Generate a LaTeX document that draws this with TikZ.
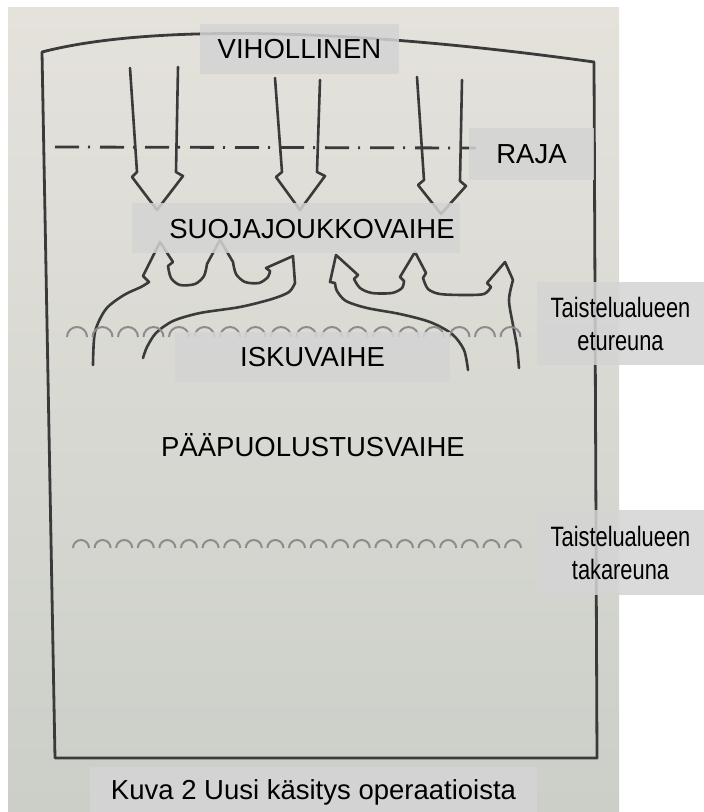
\documentclass[tikz,border=0pt]{standalone}
\usepackage{fontspec}
\setmainfont{Liberation Sans}
\newfontfamily\narrowsans[FakeStretch=0.78]{Liberation Sans}
\usetikzlibrary{positioning}

\definecolor{ink}{RGB}{58,58,58}
\definecolor{pagetop}{RGB}{229,226,220}
\definecolor{pagebottom}{RGB}{203,207,200}
\definecolor{tagfill}{RGB}{212,212,212}
\definecolor{scallopgray}{RGB}{140,140,140}

\begin{document}
\begin{tikzpicture}[x=1pt, y=-1pt,
    stroke/.style={draw=ink, line width=2.6pt, line join=round, line cap=round},
    border/.style={draw=ink, line width=2.8pt, dash pattern=on 24pt off 9pt on 2pt off 10pt},
    scallop/.style={draw=scallopgray, line width=2pt},
    tag/.style={fill=tagfill, fill opacity=0.85, text opacity=1, inner sep=0pt},
    lbl/.style={font=\fontsize{27.5}{33}\selectfont},
    side/.style={font=\narrowsans\fontsize{28}{33}\selectfont, align=center}
]
    \useasboundingbox (0,0) rectangle (704,812);
    \fill[white] (0,0) rectangle (704,812);
    % page of the book
    \shade[top color=pagetop, bottom color=pagebottom] (8,7) rectangle (619,812);

    % frame
    \draw[stroke, line width=2.8pt] (55,758) -- (42,52) .. controls (150,24) and (350,28) .. (594,62) -- (597,758) -- cycle;

    % border
    \draw[border] (55,147) -- (476,148);

    % enemy arrows
    \draw[stroke] (130,68) -- (137,172) -- (132,177) -- (157,210) -- (183,176) -- (176,172) -- (178,67);
    \draw[stroke] (275,78) -- (282,172) -- (276,177) -- (300,210) -- (325,176) -- (317,172) -- (320,80);
    \draw[stroke] (417,77) -- (424,180) -- (418,185) -- (441,214) -- (466,186) -- (460,181) -- (462,80);

    % counter attacks
    \draw[stroke] plot[smooth] coordinates {(93,365) (95,332) (106,309) (124,295) (141,287) (149,282)}
        -- (143,276) -- (160,242) -- (173,262) -- (168,266)
        -- plot[smooth] coordinates {(168,266) (171,278) (180,285) (195,284) (204,276) (207,264)}
        -- (220,240) -- (233,262)
        -- plot[smooth] coordinates {(233,262) (236,274) (245,282) (259,283) (268,277) (270,271)}
        -- (266,268) -- (293,256) -- (295,283)
        -- plot[smooth] coordinates {(295,283) (289,292) (272,299) (240,307) (200,313) (173,321) (156,333) (147,347) (143,358)};
    \draw[stroke] plot[smooth] coordinates {(468,370) (464,350) (452,334) (430,322) (400,314) (367,308) (346,301) (337,291) (335,283)}
        -- (330,282) -- (336,255) -- (358,275) -- (354,279)
        -- plot[smooth] coordinates {(354,279) (360,288) (372,293) (392,293) (402,288) (404,281)}
        -- (400,277) -- (415,252) -- (426,273) -- (423,278)
        -- plot[smooth] coordinates {(423,278) (428,289) (440,294) (465,295) (484,294) (491,287)}
        -- (487,283) -- (505,262) -- (513,280)
        -- plot[smooth] coordinates {(513,280) (509,300) (513,325) (517,347) (519,368)};

    % FEBA and RBA
    \foreach \i in {0,...,17}
        \draw[scallop] (67+\i*25.5,337) arc[start angle=180, end angle=0, radius=10pt];
    \foreach \i in {0,...,20}
        \draw[scallop] (73+\i*21.6,548) arc[start angle=180, end angle=0, radius=8pt];

    % labels
    \node[tag, lbl, minimum width=199, minimum height=50] (vihollinen) at (299.5,49) {VIHOLLINEN};
    \node[tag, lbl, minimum width=125, minimum height=52] (raja) at (531.5,154) {RAJA};
    \node[tag, minimum width=328, minimum height=50] (suojabox) at (296,228) {};
    \node[lbl] (suoja) at (312,229) {SUOJAJOUKKOVAIHE};
    \node[tag, lbl, minimum width=275, minimum height=50] (isku) at (312.5,357) {ISKUVAIHE};
    \node[lbl] (paapuolustus) at (313,445) {PÄÄPUOLUSTUSVAIHE};
    \node[tag, side, minimum width=167, minimum height=83] (etureuna) at (620.5,323.5) {Taistelualueen\\etureuna};
    \node[tag, side, minimum width=167, minimum height=85] (takareuna) at (620.5,552.5) {Taistelualueen\\takareuna};
    \node[tag, lbl, text depth=0pt, minimum width=447, minimum height=45] (kuva) at (313.5,789.5) {Kuva 2 Uusi käsitys operaatioista};
\end{tikzpicture}
\end{document}
